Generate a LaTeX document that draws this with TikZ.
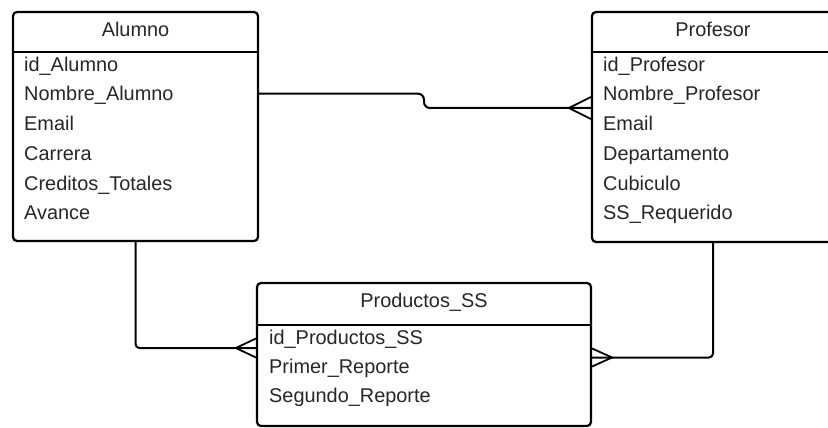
\documentclass[tikz,border=0pt]{standalone}
\usepackage{fontspec}
\setmainfont{Liberation Sans}
\tikzset{
	entity/.style={draw, line width=2.2pt, rounded corners=4pt, inner sep=0pt},
	titulo/.style={inner sep=0pt, text=black!85},
	campo/.style={anchor=west, inner sep=0pt, text height=14.5pt, text depth=0pt, text=black!85},
	rel/.style={line width=2pt},
	crow/.style={line width=1.8pt},
}
\begin{document}
\begin{tikzpicture}[x=1pt,y=-1pt,font=\fontsize{19.9}{24}\selectfont]
	\useasboundingbox (0,0) rectangle (828,428);
	% Alumno
	\node[entity, minimum width=245pt, minimum height=229pt] (alumno) at (135.5,126.5) {};
	\draw[line width=1.8pt] (alumno.west |- 0,52) -- (alumno.east |- 0,52);
	\node[titulo] (talumno) at (135.5,29) {Alumno};
	\node[campo] (a1) at (24,64) {id\_Alumno};
	\node[campo] (a2) at (24,93.7) {Nombre\_Alumno};
	\node[campo] (a3) at (24,123.4) {Email};
	\node[campo] (a4) at (24,153.1) {Carrera};
	\node[campo] (a5) at (24,182.8) {Creditos\_Totales};
	\node[campo] (a6) at (24,212.5) {Avance};
	% Profesor
	\node[entity, minimum width=242pt, minimum height=230pt] (profesor) at (713,127) {};
	\draw[line width=1.8pt] (profesor.west |- 0,52) -- (profesor.east |- 0,52);
	\node[titulo] (tprofesor) at (713,29) {Profesor};
	\node[campo] (p1) at (603,64) {id\_Profesor};
	\node[campo] (p2) at (603,93.7) {Nombre\_Profesor};
	\node[campo] (p3) at (603,123.4) {Email};
	\node[campo] (p4) at (603,153.1) {Departamento};
	\node[campo] (p5) at (603,182.8) {Cubiculo};
	\node[campo] (p6) at (603,212.5) {SS\_Requerido};
	% Productos_SS
	\node[entity, minimum width=334pt, minimum height=143pt] (productos) at (424,354.5) {};
	\draw[line width=1.8pt] (productos.west |- 0,325) -- (productos.east |- 0,325);
	\node[titulo] (tproductos) at (424,302) {Productos\_SS};
	\node[campo] (s1) at (269,337) {id\_Productos\_SS};
	\node[campo] (s2) at (269,366) {Primer\_Reporte};
	\node[campo] (s3) at (269,395) {Segundo\_Reporte};
	% relaciones
	\coordinate (pin) at (profesor.west |- 0,108);
	\coordinate (sin) at (productos.west |- 0,348);
	\coordinate (sout) at (productos.east |- 0,357.5);
	\draw[rel, rounded corners=6pt] (alumno.east |- a2) -- (424,93.7) -- (424,108) -- (pin);
	\draw[crow] ([yshift=11pt]pin) -- ([xshift=-22pt]pin) -- ([yshift=-11pt]pin);
	\draw[rel, rounded corners=4pt] (alumno.south) |- (sin);
	\draw[crow] ([yshift=9.5pt]sin) -- ([xshift=-20pt]sin) -- ([yshift=-9.5pt]sin);
	\draw[rel, rounded corners=4pt] (profesor.south) |- (sout);
	\draw[crow] ([yshift=9pt]sout) -- ([xshift=20pt]sout) -- ([yshift=-9pt]sout);
\end{tikzpicture}
\end{document}
